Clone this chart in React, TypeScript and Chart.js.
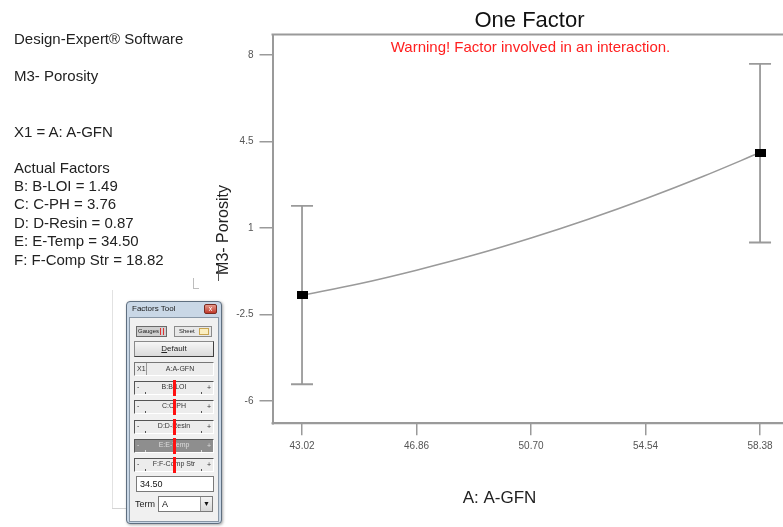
import React, { useEffect, useRef } from "react";
import { Chart, registerables } from "chart.js";

Chart.register(...registerables);

// ---------- data ----------
const xCurve = [43.02, 44.94, 46.86, 48.78, 50.7, 52.62, 54.54, 56.46, 58.38];
const yCurve = [-1.72, -1.25, -0.7, -0.09, 0.6, 1.36, 2.19, 3.09, 4.06];
const xDesign = [43.02, 58.38];
const yDesign = [-1.71, 4.06];
const ciLow = [-5.32, 0.42];
const ciHigh = [1.9, 7.65];
const xTicks = [43.02, 46.86, 50.7, 54.54, 58.38];
const yTicks = [8, 4.5, 1, -2.5, -6];
const xRange = [42.03, 59.15];
const yRange = [-6.9, 8.84];

const chartTitle = "One Factor";
const warningText = "Warning! Factor involved in an interaction.";
const xTitle = "A: A-GFN";
const yTitle = "M3- Porosity";

const headerLines = ["Design-Expert® Software", "M3- Porosity", "X1 = A: A-GFN"];
const factorLines = [
  "Actual Factors",
  "B: B-LOI = 1.49",
  "C: C-PH = 3.76",
  "D: D-Resin = 0.87",
  "E: E-Temp = 34.50",
  "F: F-Comp Str = 18.82",
];
const sliderLabels = ["B:B-LOI", "C:C-PH", "D:D-Resin", "E:E-Temp", "F:F-Comp Str"];
const activeSlider = 3;
const editValue = "34.50";
const termValue = "A";

const FAM = '"Liberation Sans", Arial, Helvetica, sans-serif';
const CANVAS_W = 789;

const abs = (l: number, t: number, w: number, h: number, extra: any = {}) => ({
  position: "absolute" as const,
  left: l,
  top: t,
  width: w,
  height: h,
  boxSizing: "border-box" as const,
  ...extra,
});

function FactorsTool() {
  const sliderTops = [381, 400, 420, 439, 458];
  return (
    <>
      <div style={abs(112, 290, 1, 219, { background: "#e2e2e2" })} />
      <div style={abs(112, 508, 15, 1, { background: "#d4d4d4" })} />
      <div style={abs(193, 278, 1, 11, { background: "#bdbdbd" })} />
      <div style={abs(193, 288, 6, 1, { background: "#bdbdbd" })} />
      <div style={abs(217.5, 266, 1.5, 15, { background: "#555" })} />
      <div
        style={abs(126, 301, 96, 223, {
          background: "#c9d7e6",
          border: "1px solid #5f6f80",
          borderRadius: 4,
          boxShadow: "1px 1px 3px rgba(0,0,0,0.35)",
        })}
      />
      <div style={abs(132, 303, 60, 12, { font: `8px ${FAM}`, color: "#1a1a1a", lineHeight: "12px" })}>
        Factors Tool
      </div>
      <div
        style={abs(204, 304, 13, 10, {
          background: "linear-gradient(#e69a8c,#c0392b)",
          border: "1px solid #7a2a20",
          borderRadius: 2,
          color: "#fff",
          font: `7px ${FAM}`,
          textAlign: "center",
          lineHeight: "8px",
        })}
      >
        x
      </div>
      <div style={abs(129, 317, 90, 205, { background: "#f0f0f0", border: "1px solid #8796a6" })} />
      <div
        style={abs(136, 326, 31, 11, {
          background: "#d0d0d0",
          border: "1px solid #6a6a6a",
          font: `6px ${FAM}`,
          lineHeight: "9px",
          paddingLeft: 1,
          color: "#222",
        })}
      >
        Gauges
        <span style={abs(23, 1, 4, 7, { borderLeft: "1px solid #d33", borderRight: "1px solid #d33" })} />
      </div>
      <div
        style={abs(174, 326, 38, 11, {
          background: "#e8e8e8",
          border: "1px solid #8a8a8a",
          font: `6px ${FAM}`,
          lineHeight: "9px",
          paddingLeft: 4,
          color: "#222",
        })}
      >
        Sheet
        <span style={abs(24, 1, 10, 7, { background: "#fbeec0", border: "1px solid #c9a550" })} />
      </div>
      <div
        style={abs(134, 341, 80, 16, {
          background: "linear-gradient(#f6f6f6,#dadada)",
          border: "1px solid #8a8a8a",
          borderRightColor: "#404040",
          borderBottomColor: "#404040",
          font: `8px ${FAM}`,
          textAlign: "center",
          lineHeight: "14px",
          color: "#222",
        })}
      >
        <u>D</u>efault
      </div>
      <div
        style={abs(134, 362, 80, 14, {
          background: "#ececec",
          borderTop: "1px solid #777",
          borderLeft: "1px solid #777",
          borderRight: "1px solid #fff",
          borderBottom: "1px solid #fff",
          font: `7px ${FAM}`,
          lineHeight: "12px",
          color: "#333",
        })}
      >
        <span style={{ position: "absolute", left: 2 }}>X1</span>
        <span style={abs(11, 0, 1, 12, { background: "#999" })} />
        <span style={{ position: "absolute", left: 12, right: 0, textAlign: "center" }}>A:A-GFN</span>
      </div>
      {sliderLabels.map((lab, i) => {
        const dark = i === activeSlider;
        const top = sliderTops[i];
        return (
          <React.Fragment key={lab}>
            <div
              style={abs(134, top, 80, 14, {
                background: dark ? "#8e8e8e" : "#ececec",
                borderTop: "1px solid #555",
                borderLeft: "1px solid #555",
                borderRight: "1px solid #fff",
                borderBottom: "1px solid #fff",
                font: `7px ${FAM}`,
                lineHeight: "10px",
                color: dark ? "#dedede" : "#333",
              })}
            >
              <span style={{ position: "absolute", left: 2, top: 0 }}>-</span>
              <span style={{ position: "absolute", right: 2, top: 1 }}>+</span>
              <span style={{ position: "absolute", left: 0, right: 0, top: 0, textAlign: "center" }}>{lab}</span>
              <span style={abs(10, 10, 1, 2, { background: dark ? "#ddd" : "#555" })} />
              <span style={abs(66, 10, 1, 2, { background: dark ? "#ddd" : "#555" })} />
            </div>
            <div style={abs(173, top - 1, 2.5, 16, { background: "#ff1010" })} />
          </React.Fragment>
        );
      })}
      <div
        style={abs(136, 476, 78, 16, {
          background: "#fff",
          border: "1px solid #7a7a7a",
          font: `9px ${FAM}`,
          paddingLeft: 3,
          lineHeight: "14px",
          color: "#111",
        })}
      >
        {editValue}
      </div>
      <div style={abs(135, 497, 24, 14, { font: `9px ${FAM}`, lineHeight: "14px", color: "#222" })}>Term</div>
      <div
        style={abs(158, 496, 55, 16, {
          background: "#fff",
          border: "1px solid #7a7a7a",
          font: `9px ${FAM}`,
          paddingLeft: 3,
          lineHeight: "14px",
          color: "#111",
        })}
      >
        {termValue}
        <span
          style={abs(41, 0, 12, 14, {
            background: "linear-gradient(#f4f4f4,#d8d8d8)",
            borderLeft: "1px solid #999",
            font: `7px ${FAM}`,
            textAlign: "center",
            lineHeight: "14px",
          })}
        >
          ▼
        </span>
      </div>
    </>
  );
}

export default function App() {
  const canvasRef = useRef<HTMLCanvasElement | null>(null);

  useEffect(() => {
    const canvas = canvasRef.current;
    if (!canvas) return;
    const marker = document.createElement("canvas");
    marker.width = 11;
    marker.height = 8;
    const mctx = marker.getContext("2d")!;
    mctx.fillStyle = "#000";
    mctx.fillRect(0, 0, 11, 8);

    const AXIS_W = 40;
    const AXIS_H = 40;

    const errorBars = {
      id: "errorBars",
      beforeDatasetsDraw(chart: any) {
        const { ctx, scales } = chart;
        ctx.save();
        ctx.strokeStyle = "#9a9a9a";
        ctx.lineWidth = 1.8;
        for (let i = 0; i < xDesign.length; i++) {
          const px = scales.x.getPixelForValue(xDesign[i]);
          const pLo = scales.y.getPixelForValue(ciLow[i]);
          const pHi = scales.y.getPixelForValue(ciHigh[i]);
          ctx.beginPath();
          ctx.moveTo(px, pLo);
          ctx.lineTo(px, pHi);
          ctx.moveTo(px - 11, pLo);
          ctx.lineTo(px + 11, pLo);
          ctx.moveTo(px - 11, pHi);
          ctx.lineTo(px + 11, pHi);
          ctx.stroke();
        }
        ctx.restore();
      },
    };

    const frameAndText = {
      id: "frameAndText",
      afterDraw(chart: any) {
        const { ctx, chartArea } = chart;
        ctx.save();
        ctx.strokeStyle = "#9a9a9a";
        ctx.lineWidth = 2;
        ctx.beginPath();
        ctx.moveTo(chartArea.left - 1, chartArea.top);
        ctx.lineTo(chart.width, chartArea.top);
        ctx.moveTo(chartArea.left - 1, chartArea.bottom);
        ctx.lineTo(chart.width, chartArea.bottom);
        ctx.stroke();

        ctx.textAlign = "center";
        ctx.textBaseline = "alphabetic";
        ctx.fillStyle = "#111";
        ctx.font = `22px ${FAM}`;
        ctx.fillText(chartTitle, chartArea.left + 257, 27);

        ctx.fillStyle = "#ff2020";
        ctx.font = `15px ${FAM}`;
        ctx.fillText(warningText, chartArea.left + 258, 52);

        ctx.fillStyle = "#222";
        ctx.font = `17px ${FAM}`;
        ctx.fillText(xTitle, chartArea.left + 227, 503);

        ctx.translate(228, 230);
        ctx.rotate(-Math.PI / 2);
        ctx.font = `16px ${FAM}`;
        ctx.fillText(yTitle, 0, 0);
        ctx.restore();
      },
    };

    const chart = new Chart(canvas, {
      type: "scatter",
      data: {
        datasets: [
          {
            type: "line",
            order: 2,
            data: xCurve.map((x, i) => ({ x, y: yCurve[i] })),
            borderColor: "#9a9a9a",
            borderWidth: 1.6,
            pointRadius: 0,
            cubicInterpolationMode: "monotone",
            fill: false,
          } as any,
          {
            type: "scatter",
            order: 1,
            data: xDesign.map((x, i) => ({ x, y: yDesign[i] })),
            pointStyle: marker as any,
            pointRadius: 5,
            backgroundColor: "#000",
            borderColor: "#000",
          } as any,
        ],
      },
      options: {
        responsive: false,
        animation: false,
        layout: {
          padding: { left: 272.5 - AXIS_W, top: 34.5, right: 0, bottom: 527 - 423.3 - AXIS_H },
        },
        plugins: {
          legend: { display: false },
          tooltip: { enabled: false },
          title: { display: false },
        },
        scales: {
          x: {
            type: "linear",
            min: xRange[0],
            max: xRange[1],
            afterBuildTicks: (s: any) => {
              s.ticks = xTicks.map((v) => ({ value: v }));
            },
            afterFit: (s: any) => {
              s.height = AXIS_H;
            },
            ticks: {
              callback: (v: any) => Number(v).toFixed(2),
              font: { size: 10, family: FAM },
              color: "#555",
              padding: 5,
              maxRotation: 0,
              autoSkip: false,
            },
            grid: { drawOnChartArea: false, drawTicks: true, tickLength: 12, color: "#9a9a9a", lineWidth: 1.5 },
            border: { display: true, color: "#9a9a9a", width: 2 },
          },
          y: {
            type: "linear",
            min: yRange[0],
            max: yRange[1],
            afterBuildTicks: (s: any) => {
              s.ticks = yTicks.map((v) => ({ value: v }));
            },
            afterFit: (s: any) => {
              s.width = AXIS_W;
            },
            ticks: {
              callback: (v: any) => String(v),
              font: { size: 10, family: FAM },
              color: "#555",
              padding: 6,
              autoSkip: false,
            },
            grid: { drawOnChartArea: false, drawTicks: true, tickLength: 13, color: "#9a9a9a", lineWidth: 1.5 },
            border: { display: true, color: "#9a9a9a", width: 2 },
          },
        },
      },
      plugins: [errorBars, frameAndText],
    } as any);

    return () => chart.destroy();
  }, []);

  const headerTops = [30, 67, 122.5];

  return (
    <div style={{ position: "absolute", left: 0, top: 0, width: 783, height: 527, background: "#fff", overflow: "hidden" }}>
      <canvas
        ref={canvasRef}
        width={CANVAS_W}
        height={527}
        style={{ position: "absolute", left: 0, top: 0, width: CANVAS_W, height: 527 }}
      />
      {headerLines.map((t, i) => (
        <div
          key={t}
          style={{
            position: "absolute",
            left: 14,
            top: headerTops[i],
            font: `15px ${FAM}`,
            lineHeight: "18px",
            color: "#222",
            whiteSpace: "nowrap",
          }}
        >
          {t}
        </div>
      ))}
      <div
        style={{
          position: "absolute",
          left: 14,
          top: 158.6,
          font: `15px ${FAM}`,
          lineHeight: "18.4px",
          color: "#222",
          whiteSpace: "nowrap",
        }}
      >
        {factorLines.map((t) => (
          <div key={t}>{t}</div>
        ))}
      </div>
      <FactorsTool />
    </div>
  );
}
